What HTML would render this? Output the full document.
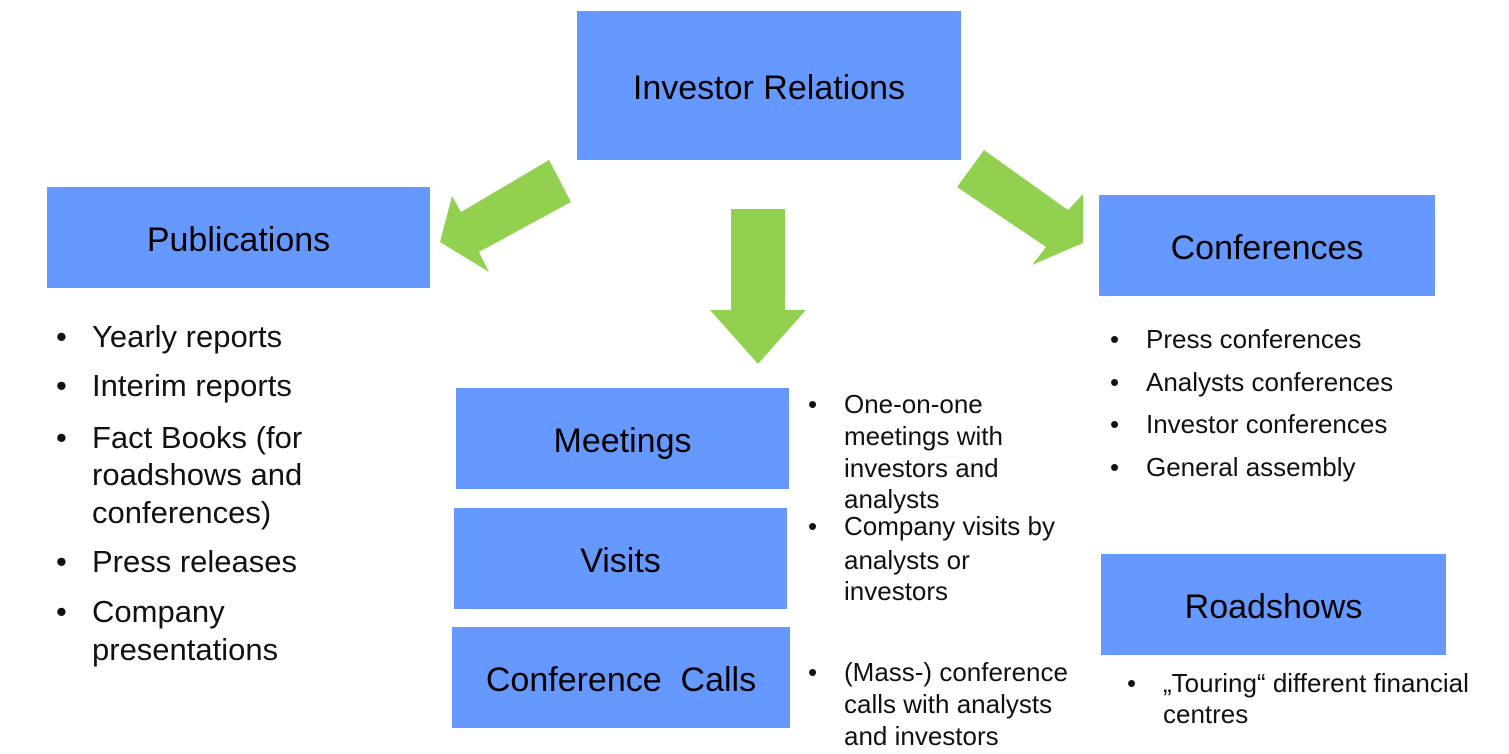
<!DOCTYPE html>
<html><head><meta charset="utf-8"><style>
body{margin:0;width:1509px;height:754px;background:#fff;position:relative;overflow:hidden;font-family:"Liberation Sans",sans-serif;color:#111}
.b{position:absolute;background:#6699FF;display:flex;align-items:center;justify-content:center;font-size:34px;color:#000;box-sizing:border-box;padding-top:5px}
.t{position:absolute;white-space:nowrap;height:34px;line-height:34px}
.l{font-size:31px}.m{font-size:26px}
</style></head><body>
<svg width="1509" height="754" style="position:absolute;left:0;top:0">
<polygon fill="#92D050" points="549,160 571,202 479,252 489,272 440,242 452,196 461,212"/>
<polygon fill="#92D050" points="731,209 785,209 785,310 806,310 758,364 710,310 731,310"/>
<polygon fill="#92D050" points="984,150 1068,210 1083,194 1083,243 1032,265 1046,247 957,187"/>
</svg>
<div class="b" style="left:577px;top:11px;width:384px;height:149px">Investor Relations</div>
<div class="b" style="left:47px;top:187px;width:383px;height:101px">Publications</div>
<div class="b" style="left:1099px;top:195px;width:336px;height:101px">Conferences</div>
<div class="b" style="left:456px;top:388px;width:333px;height:101px">Meetings</div>
<div class="b" style="left:454px;top:508px;width:333px;height:101px">Visits</div>
<div class="b" style="left:452px;top:627px;width:338px;height:101px">Conference&nbsp; Calls</div>
<div class="b" style="left:1101px;top:554px;width:345px;height:101px">Roadshows</div>

<div class="t l" style="left:56px;top:320px">•</div><div class="t l" style="left:92px;top:320px">Yearly reports</div>
<div class="t l" style="left:56px;top:369px">•</div><div class="t l" style="left:92px;top:369px">Interim reports</div>
<div class="t l" style="left:56px;top:421px">•</div><div class="t l" style="left:92px;top:421px">Fact Books (for</div>
<div class="t l" style="left:92px;top:458px">roadshows and</div>
<div class="t l" style="left:92px;top:496px">conferences)</div>
<div class="t l" style="left:56px;top:545px">•</div><div class="t l" style="left:92px;top:545px">Press releases</div>
<div class="t l" style="left:56px;top:595px">•</div><div class="t l" style="left:92px;top:595px">Company</div>
<div class="t l" style="left:92px;top:633px">presentations</div>

<div class="t m" style="left:808px;top:387px">•</div><div class="t m" style="left:844px;top:387px">One-on-one</div>
<div class="t m" style="left:844px;top:419px">meetings with</div>
<div class="t m" style="left:844px;top:451px">investors and</div>
<div class="t m" style="left:844px;top:482px">analysts</div>
<div class="t m" style="left:808px;top:509px">•</div><div class="t m" style="left:844px;top:509px">Company visits by</div>
<div class="t m" style="left:844px;top:543px">analysts or</div>
<div class="t m" style="left:844px;top:574px">investors</div>
<div class="t m" style="left:808px;top:655px">•</div><div class="t m" style="left:844px;top:655px">(Mass-) conference</div>
<div class="t m" style="left:844px;top:687px">calls with analysts</div>
<div class="t m" style="left:844px;top:719px">and investors</div>

<div class="t m" style="left:1110px;top:322px">•</div><div class="t m" style="left:1146px;top:322px">Press conferences</div>
<div class="t m" style="left:1110px;top:365px">•</div><div class="t m" style="left:1146px;top:365px">Analysts conferences</div>
<div class="t m" style="left:1110px;top:407px">•</div><div class="t m" style="left:1146px;top:407px">Investor conferences</div>
<div class="t m" style="left:1110px;top:450px">•</div><div class="t m" style="left:1146px;top:450px">General assembly</div>

<div class="t m" style="left:1127px;top:666px">•</div><div class="t m" style="left:1163px;top:666px">„Touring“ different financial</div>
<div class="t m" style="left:1163px;top:697px">centres</div>
</body></html>
